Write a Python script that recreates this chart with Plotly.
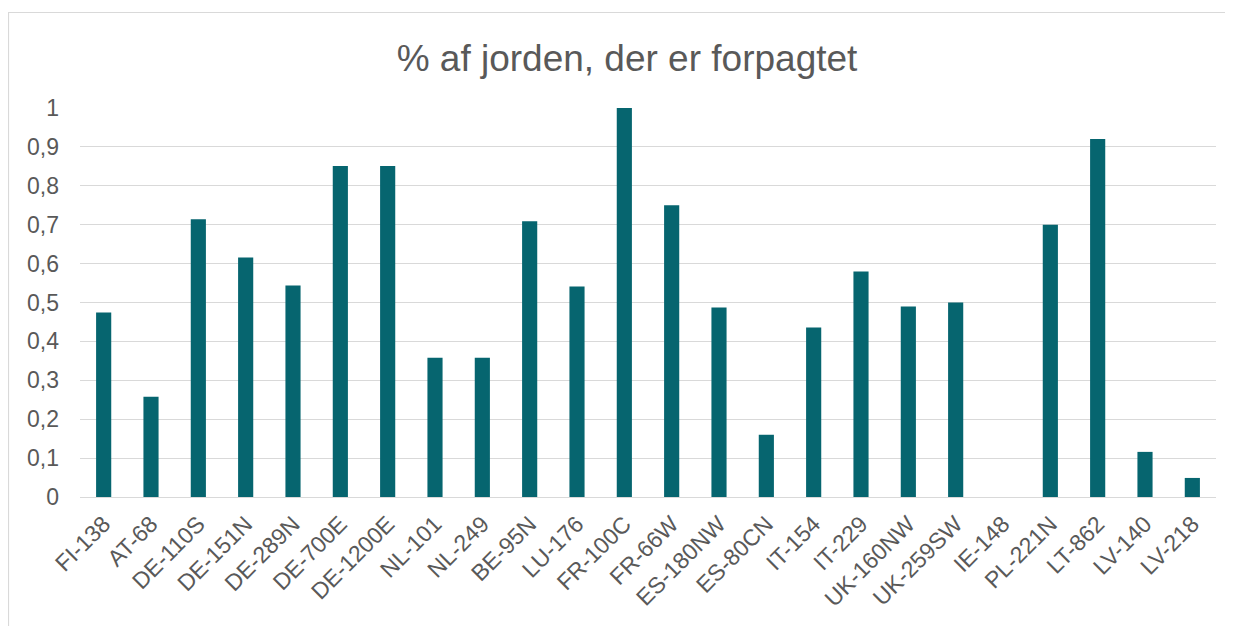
import plotly.graph_objects as go

categories = ["FI-138", "AT-68", "DE-110S", "DE-151N", "DE-289N", "DE-700E", "DE-1200E",
              "NL-101", "NL-249", "BE-95N", "LU-176", "FR-100C", "FR-66W", "ES-180NW",
              "ES-80CN", "IT-154", "IT-229", "UK-160NW", "UK-259SW", "IE-148", "PL-221N",
              "LT-862", "LV-140", "LV-218"]
values = [0.474, 0.258, 0.714, 0.616, 0.544, 0.851, 0.851,
          0.358, 0.358, 0.709, 0.541, 1.0, 0.75, 0.487,
          0.16, 0.436, 0.58, 0.49, 0.5, 0.0, 0.70,
          0.92, 0.116, 0.049]
y_ticks = [0, 0.1, 0.2, 0.3, 0.4, 0.5, 0.6, 0.7, 0.8, 0.9, 1]
y_tick_labels = ["0", "0,1", "0,2", "0,3", "0,4", "0,5", "0,6", "0,7", "0,8", "0,9", "1"]

# page is offset by the browser's 8px body margin
OFF = 8
W, H = 1233, 626
L, R, T, B = 80 - OFF, 1233 - (1216 - OFF), 108 - OFF, 626 - (497 - OFF)
pw, ph = W - L - R, H - T - B

fig = go.Figure(go.Bar(x=categories, y=values, marker=dict(color="#06656F", line=dict(width=0)),
                       width=0.32))

def px_x(p):
    return (p - OFF - L) / pw

def px_y(p):
    return (H - B - (p - OFF)) / ph

fig.add_shape(type="rect", xref="paper", yref="paper",
              x0=px_x(8.5), x1=px_x(1227.5), y0=px_y(720), y1=px_y(12.5),
              line=dict(color="#D9D9D9", width=1.2), fillcolor="rgba(0,0,0,0)", layer="below")

fig.update_layout(
    width=W, height=H,
    margin=dict(l=L, r=R, t=T, b=B),
    paper_bgcolor="white", plot_bgcolor="white",
    font=dict(family="Liberation Sans, Arial, sans-serif", color="#595959", size=23),
    title=dict(text="% af jorden, der er forpagtet", x=(627 - OFF) / W, xref="container",
               xanchor="center", y=1 - (58 - OFF) / H, yref="container", yanchor="middle",
               font=dict(size=37, color="#595959")),
    showlegend=False,
)
fig.update_xaxes(tickangle=-45, showgrid=False, showline=False, ticks="",
                 ticklabelstandoff=8,
                 tickfont=dict(size=23, color="#595959"))
fig.update_yaxes(range=[0, 1], tickvals=y_ticks, ticktext=y_tick_labels,
                 showgrid=True, gridcolor="#D9D9D9", gridwidth=1.3,
                 zeroline=True, zerolinecolor="#D9D9D9", zerolinewidth=1.3,
                 showline=False, ticks="", ticklabelstandoff=20,
                 tickfont=dict(size=23, color="#595959"))

fig.write_html("out.html")
